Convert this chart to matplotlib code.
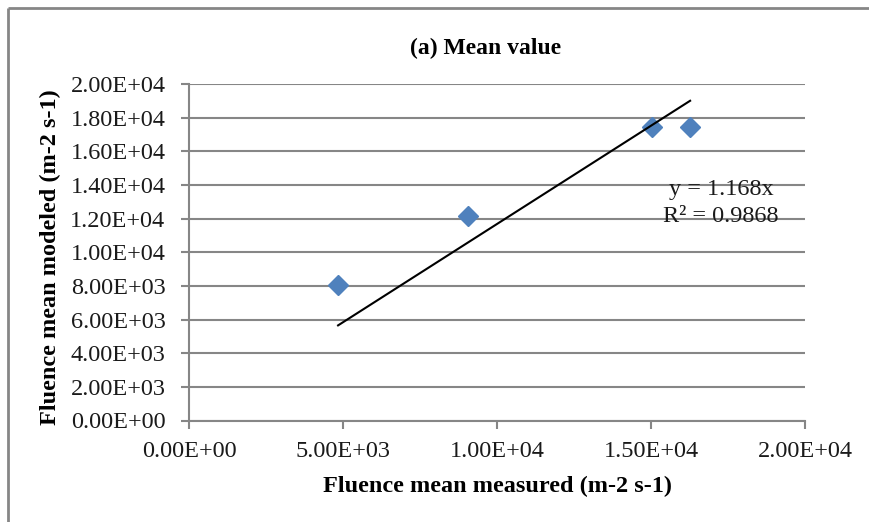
"""
Fluence mean value: modeled vs measured, with linear trendline through origin
"""

import matplotlib
matplotlib.use("Agg")
import matplotlib.pyplot as plt
import numpy as np
from matplotlib.ticker import FuncFormatter, MultipleLocator
from matplotlib.lines import Line2D

# data
measured = [4840, 9060, 15030, 16270]
modeled = [8070, 12170, 17470, 17470]
slope = 1.168
r2 = 0.9868

plt.rcParams['font.family'] = ['Liberation Serif', 'DejaVu Serif']

fig = plt.figure(figsize=(8.69, 5.22), dpi=100)
ax = fig.add_axes([189/869, 1 - 420.5/522, 616/869, 336.5/522])

grey = '#868686'
txt = '#1a1a1a'
fs = 17.5

# points
ax.plot(measured, modeled, linestyle='none', marker='D', markersize=10.5,
		color='#4F81BD', zorder=3)

# trendline y = slope*x over data range
xt = np.array([min(measured), max(measured)])
ax.plot(xt, slope*xt, color='black', linewidth=1.5, zorder=4)

ax.set_xlim(0, 20000)
ax.set_ylim(0, 20000)
ax.xaxis.set_major_locator(MultipleLocator(5000))
ax.yaxis.set_major_locator(MultipleLocator(2000))
fmt = FuncFormatter(lambda v, p: f"{v:.2E}")
ax.xaxis.set_major_formatter(fmt)
ax.yaxis.set_major_formatter(fmt)

ax.grid(axis='y', color=grey, linewidth=1.5)
ax.set_axisbelow(True)
for s in ['top', 'right']:
	ax.spines[s].set_visible(False)
for s in ['left', 'bottom']:
	ax.spines[s].set_color(grey)
	ax.spines[s].set_linewidth(1.5)
ax.tick_params(axis='both', direction='out', color=grey, width=1.5,
			   length=6, labelsize=fs, labelcolor=txt)
ax.tick_params(axis='x', pad=9)
ax.tick_params(axis='y', pad=11)

# equation
ax.text(721/869, 1 - 190/522, "y = 1.168x", transform=fig.transFigure,
		ha='center', va='center', fontsize=fs, color=txt)
ax.text(721/869, 1 - 217/522, "R\u00b2 = 0.9868", transform=fig.transFigure,
		ha='center', va='center', fontsize=fs, color=txt)

# labels
fig.text(486/869, 1 - 48/522, "(a) Mean value", ha='center', va='center',
		 fontsize=17, fontweight='bold')
fig.text(497/869, 1 - 486/522, "Fluence mean measured (m-2 s-1)", ha='center',
		 va='center', fontsize=fs, fontweight='bold')
fig.text(50/869, 1 - 257/522, "Fluence mean modeled (m-2 s-1)", ha='center',
		 va='center', rotation=90, fontsize=fs, fontweight='bold')

# chart area border (left and top edges visible)
fig.add_artist(Line2D([8/869, 8/869], [0, 1 - 8/522], transform=fig.transFigure,
					  color=grey, linewidth=2, solid_capstyle='butt'))
fig.add_artist(Line2D([8/869, 1], [1 - 8/522, 1 - 8/522], transform=fig.transFigure,
					  color=grey, linewidth=2, solid_capstyle='butt'))

fig.savefig('out.png', dpi=100)
